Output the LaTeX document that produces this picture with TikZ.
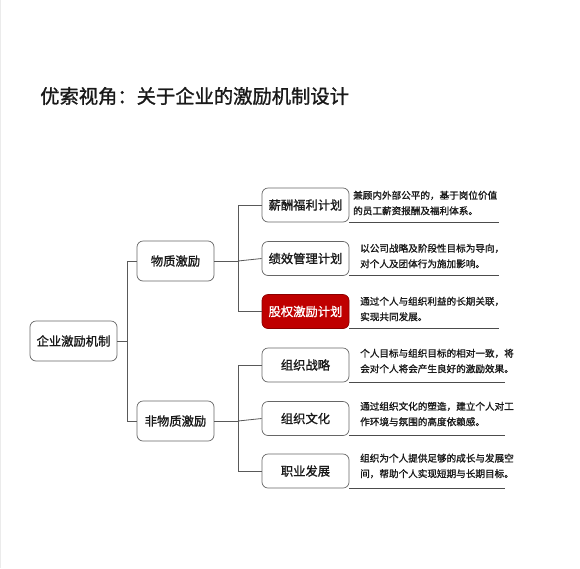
\documentclass[tikz,border=0pt]{standalone}
\usepackage{fontspec}
\setmainfont{Noto Sans CJK SC}
\newfontfamily\cjk{Noto Sans CJK SC}
\newfontfamily\cjkb[FakeBold=1.2]{Noto Sans CJK SC}
\begin{document}
\begin{tikzpicture}[x=1pt,y=-1pt,
  box/.style={draw=black!60,line width=0.7pt,rounded corners=6pt,fill=white,
    font=\cjkb\fontsize{12.3}{14}\selectfont,text=black!90,inner sep=0pt},
  lone/.style={box,minimum width=87pt,minimum height=40pt},
  lmid/.style={box,minimum width=77pt,minimum height=40pt},
  ltwo/.style={box,minimum width=87pt,minimum height=34pt},
  hot/.style={ltwo,fill=red!75!black,draw=red!55!black,text=white},
  desc/.style={anchor=west,align=left,inner sep=0pt,text=black!90,
    font=\cjkb\fontsize{9.6}{15.5}\selectfont},
  link/.style={draw=black!65,line width=0.8pt},
  uline/.style={draw=black!70,line width=1.2pt}]
\useasboundingbox (0,0) rectangle (580,568);
\fill[white] (0,0) rectangle (580,568);
\draw[black!8,line width=0.8pt] (0.6,0) -- (0.6,568);

\node[anchor=west,inner sep=0pt,font=\cjkb\fontsize{19.3}{22}\selectfont,text=black!90] (title) at (40,96) {优索视角：关于企业的激励机制设计};

\node[lone] (root) at (73.5,341) {企业激励机制};
\node[lmid] (m1) at (175.5,261) {物质激励};
\node[lmid] (m2) at (175.5,421) {非物质激励};

\node[ltwo] (a1) at (305.5,205) {薪酬福利计划};
\node[ltwo] (a2) at (305.5,258.5) {绩效管理计划};
\node[hot]  (a3) at (305.5,311.5) {股权激励计划};
\node[ltwo] (b1) at (305.5,365) {组织战略};
\node[ltwo] (b2) at (305.5,418.5) {组织文化};
\node[ltwo] (b3) at (305.5,471) {职业发展};

\coordinate (j0) at (127.5,341);
\coordinate (j1) at (238,261);
\coordinate (j2) at (238,421);

\draw[link] (root.east) -- (j0);
\draw[link] (j0) |- (m1.west);
\draw[link] (j0) |- (m2.west);
\draw[link] (m1.east) -- (j1);
\draw[link] (j1) |- (a1.west);
\draw[link] (j1) -- (a2.west);
\draw[link] (j1) |- (a3.west);
\draw[link] (m2.east) -- (j2);
\draw[link] (j2) |- (b1.west);
\draw[link] (j2) -- (b2.west);
\draw[link] (j2) |- (b3.west);

\node[desc] (d1) at (353,203) {兼顾内外部公平的，基于岗位价值\\的员工薪资报酬及福利体系。};
\node[desc] (d2) at (360,256) {以公司战略及阶段性目标为导向，\\对个人及团体行为施加影响。};
\node[desc] (d3) at (360,309) {通过个人与组织利益的长期关联，\\实现共同发展。};
\node[desc] (d4) at (360,361) {个人目标与组织目标的相对一致，将\\会对个人将会产生良好的激励效果。};
\node[desc] (d5) at (360,414) {通过组织文化的塑造，建立个人对工\\作环境与氛围的高度依赖感。};
\node[desc] (d6) at (360,466) {组织为个人提供足够的成长与发展空\\间，帮助个人实现短期与长期目标。};

\coordinate (e1) at (499,0);
\coordinate (e2) at (505,0);
\draw[uline] (a1.south east) -- (a1.south east -| e1);
\draw[uline] (a2.south east) -- (a2.south east -| e1);
\draw[uline] (a3.south east) -- (a3.south east -| e1);
\draw[uline] (b1.south east) -- (b1.south east -| e2);
\draw[uline] (b2.south east) -- (b2.south east -| e2);
\draw[uline] (b3.south east) -- (b3.south east -| e2);
\end{tikzpicture}
\end{document}
